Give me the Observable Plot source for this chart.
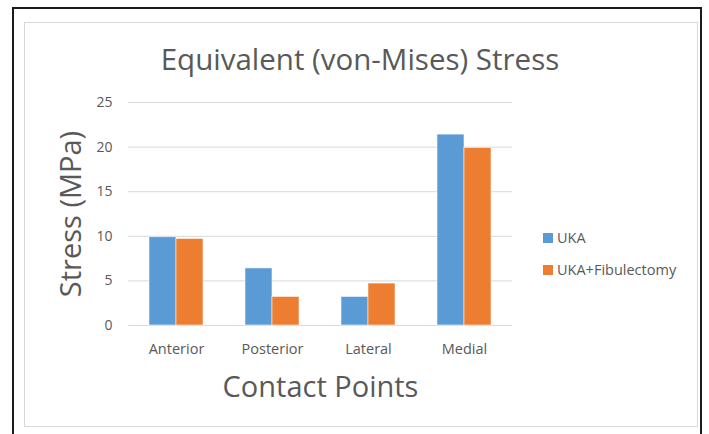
<!DOCTYPE html>
<html>
<head>
<meta charset="utf-8">
<script src="https://cdn.jsdelivr.net/npm/d3@7"></script>
<script src="https://cdn.jsdelivr.net/npm/@observablehq/plot@0.6"></script>
<style>
  html, body { margin: 0; padding: 0; background: #fff; width: 709px; height: 434px; overflow: hidden; }
  #page { position: relative; width: 709px; height: 434px; font-family: "Open Sans", sans-serif; color: #595959; }
  #outer { position: absolute; left: 12px; top: 7px; width: 686px; height: 440px; border: 2px solid #1b1b1b; border-bottom: none; }
  #inner { position: absolute; left: 24px; top: 22px; width: 672px; height: 403px; border: 1px solid #d9d9d9; }
  #title { position: absolute; left: 0; top: 44px; width: 720px; text-align: center; font-size: 29.5px; line-height: 29px; white-space: nowrap; }
  #chart { position: absolute; left: 0; top: 0; }
  #chart g[aria-label="y-axis label"], #chart g[aria-label="fx-axis label"] { font-size: 29px; }
  #legend { position: absolute; left: 543px; top: 228px; font-size: 14.5px; line-height: 20px; }
  #legend .row { display: flex; align-items: center; height: 20px; margin-bottom: 12px; white-space: nowrap; }
  #legend .sw { width: 10px; height: 10px; margin-right: 4px; }
</style>
</head>
<body>
<div id="page">
  <div id="outer"></div>
  <div id="inner"></div>
  <div id="title"></div>
  <div id="chart"></div>
  <div id="legend"></div>
</div>
<script>
const titleText = "Equivalent (von-Mises) Stress";
const yLabel = "Stress (MPa)";
const xLabel = "Contact Points";
const categories = ["Anterior", "Posterior", "Lateral", "Medial"];
const series = ["UKA", "UKA+Fibulectomy"];
const ukaValues = [9.9, 6.4, 3.2, 21.4];
const fibValues = [9.7, 3.2, 4.7, 19.9];
const yTicks = [0, 5, 10, 15, 20, 25];
const colors = ["#5B9BD5", "#ED7D31"];

const valuesBySeries = [ukaValues, fibValues];
const data = categories.flatMap((c, i) => series.map((s, j) => ({category: c, series: s, value: valuesBySeries[j][i]})));

document.getElementById("title").textContent = titleText;

const chart = Plot.plot({
  width: 709,
  height: 434,
  marginLeft: 127,
  marginRight: 196,
  marginTop: 102,
  marginBottom: 109,
  style: {fontFamily: "'Open Sans', sans-serif", fontSize: "14px", color: "#595959", background: "transparent", overflow: "visible"},
  fx: {domain: categories, padding: 0},
  x: {domain: series, paddingInner: 0, paddingOuter: 0.755, axis: null},
  y: {domain: [0, 25]},
  color: {domain: series, range: colors},
  marks: [
    Plot.gridY(yTicks, {stroke: "#d9d9d9", strokeOpacity: 1, strokeWidth: 1}),
    Plot.barY(data, {fx: "category", x: "series", y: "value", fill: "series", stroke: "white", strokeOpacity: 0.55, strokeWidth: 1}),
    Plot.axisY(yTicks, {tickSize: 0, tickPadding: 16, label: yLabel, labelAnchor: "center", labelArrow: "none", labelOffset: 68, fontSize: 14}),
    Plot.axisFx({anchor: "bottom", tickSize: 0, tickPadding: 18, label: xLabel, labelAnchor: "center", labelArrow: "none", labelOffset: 71, fontSize: 14.5})
  ]
});
document.getElementById("chart").appendChild(chart);

const legend = d3.select("#legend");
series.forEach((s, i) => {
  const row = legend.append("div").attr("class", "row");
  row.append("div").attr("class", "sw").style("background", colors[i]);
  row.append("span").text(s);
});
</script>
</body>
</html>
